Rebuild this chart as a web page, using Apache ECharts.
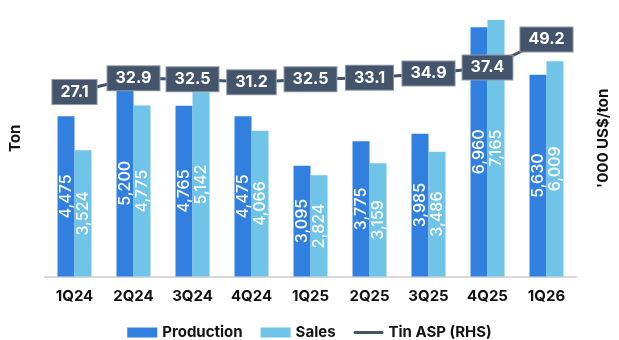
<!DOCTYPE html>
<html><head><meta charset="utf-8">
<script src="https://cdn.jsdelivr.net/npm/echarts@6/dist/echarts.min.js"></script>
<style>html,body{margin:0;padding:0;background:#fff}#c{width:619px;height:340px}</style>
</head><body><div id="c"></div>
<script>
const categories = ['1Q24','2Q24','3Q24','4Q24','1Q25','2Q25','3Q25','4Q25','1Q26'];
const production = [4475, 5200, 4765, 4475, 3095, 3775, 3985, 6960, 5630];
const sales = [3524, 4775, 5142, 4066, 2824, 3159, 3486, 7165, 6009];
const tinAsp = [27.1, 32.9, 32.5, 31.2, 32.5, 33.1, 34.9, 37.4, 49.2];

const font = 'Inter, "Noto Sans", sans-serif';
const fmt = p => p.value.toLocaleString('en-US');
const chart = echarts.init(document.getElementById('c'));
chart.setOption({
  animation: false,
  textStyle: {fontFamily: font},
  grid: {left: 44, right: 35, top: 0, bottom: 63.5},
  legend: {
    top: 320, left: 'center', itemWidth: 30, itemHeight: 10, itemGap: 18,
    textStyle: {fontFamily: font, fontSize: 15, fontWeight: 'bold', color: '#111'},
    data: [{name: 'Production', icon: 'rect'}, {name: 'Sales', icon: 'rect'},
           {name: 'Tin ASP (RHS)', icon: 'path://M1.5,0 L28.5,0 A1.5,1.5 0 0 1 28.5,3 L1.5,3 A1.5,1.5 0 0 1 1.5,0 Z'}]
  },
  xAxis: {
    type: 'category', data: categories,
    axisLine: {lineStyle: {color: '#d9d9d9', width: 2}},
    axisTick: {show: false},
    axisLabel: {fontFamily: font, fontSize: 15, fontWeight: 'bold', color: '#111', margin: 12}
  },
  yAxis: [
    {type: 'value', min: 0, max: 7720, splitLine: {show: false}, axisLabel: {show: false},
     axisLine: {show: false}, axisTick: {show: false},
     name: 'Ton', nameLocation: 'middle', nameGap: 22, nameRotate: 90,
     nameTextStyle: {fontFamily: font, fontSize: 15, fontWeight: 'bold', color: '#111'}},
    {type: 'value', min: -50.5, max: 65.8, splitLine: {show: false}, axisLabel: {show: false},
     axisLine: {show: false}, axisTick: {show: false},
     name: "'000 US$/ton", nameLocation: 'middle', nameGap: 20, nameRotate: 90,
     nameTextStyle: {fontFamily: font, fontSize: 15, fontWeight: 'bold', color: '#111'}}
  ],
  series: [
    {name: 'Production', type: 'bar', data: production, barWidth: 17, barGap: '0%',
     itemStyle: {color: '#3180e0'},
     label: {show: true, position: 'inside', rotate: 90, formatter: fmt, color: '#fff',
       fontFamily: font, fontSize: 16, fontWeight: 500}},
    {name: 'Sales', type: 'bar', data: sales, barWidth: 17,
     itemStyle: {color: '#6fc4e8'},
     label: {show: true, position: 'inside', rotate: 90, formatter: fmt, color: '#fff',
       fontFamily: font, fontSize: 16, fontWeight: 500}},
    {name: 'Tin ASP (RHS)', type: 'line', yAxisIndex: 1, data: tinAsp, z: 5,
     symbol: 'none', lineStyle: {color: '#44546a', width: 3, cap: 'round'}, itemStyle: {color: '#44546a'}},
    {name: 'ASP labels', type: 'scatter', yAxisIndex: 1, data: tinAsp, z: 6,
     symbolSize: 1, itemStyle: {color: 'rgba(0,0,0,0)', opacity: 1}, silent: true,
     label: {show: true, position: 'inside', color: '#fff', fontFamily: font, fontSize: 16,
       fontWeight: 'bold', backgroundColor: '#44546a', borderColor: '#8e9aab', borderWidth: 1,
       padding: [4, 8, 4, 8]}}
  ]
});
</script></body></html>
